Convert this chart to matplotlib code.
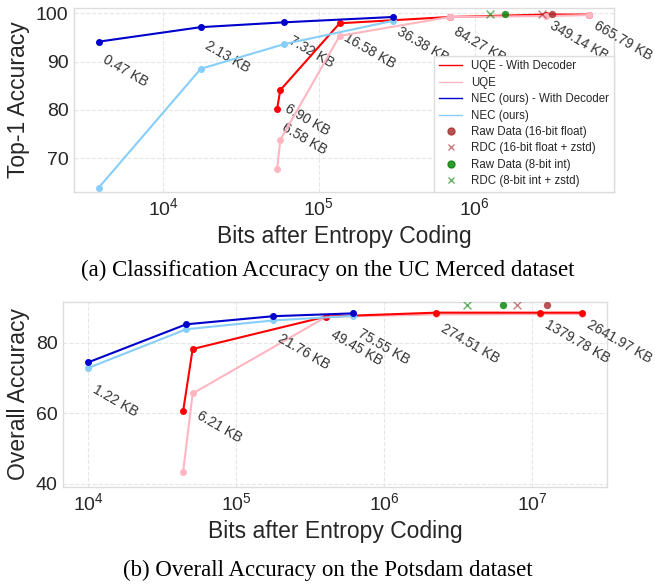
import numpy as np
import matplotlib.pyplot as plt
from matplotlib.lines import Line2D

plt.rcParams['font.family'] = ['Liberation Sans', 'DejaVu Sans']
plt.rcParams['mathtext.fontset'] = 'custom'
plt.rcParams['mathtext.rm'] = 'Liberation Sans'
plt.rcParams['mathtext.it'] = 'Liberation Sans:italic'
plt.rcParams['mathtext.bf'] = 'Liberation Sans:bold'

# ---- (a) UC Merced ----
nec_kb_a = [0.47, 2.13, 7.32, 36.38]
nec_dec_a = [94.1, 97.1, 98.1, 99.2]
nec_acc_a = [63.9, 88.5, 93.6, 98.4]
nec_lab_a = [True, True, True, True]

uqe_kb_a = [6.58, 6.90, 16.58, 84.27, 349.14, 665.79]
uqe_dec_a = [80.2, 84.1, 97.9, 99.2, 99.7, 99.7]
uqe_acc_a = [67.8, 73.8, 95.3, 99.2, 99.4, 99.6]
uqe_lab_a = [True, True, True, True, True, True]

# raw data / rdc: [16-bit float, 8-bit int]
raw_bits_a = [3.15e6, 1.57e6]
rdc_bits_a = [2.70e6, 1.25e6]
raw_acc_a = 99.8

# ---- (b) Potsdam ----
nec_kb_b = [1.22, 5.62, 21.76, 75.55]
nec_dec_b = [74.4, 85.2, 87.5, 88.3]
nec_acc_b = [72.8, 83.8, 86.3, 87.6]
nec_lab_b = [True, False, True, True]

uqe_kb_b = [5.36, 6.21, 49.45, 274.51, 1379.78, 2641.97]
uqe_dec_b = [60.7, 78.2, 87.4, 88.5, 88.5, 88.5]
uqe_acc_b = [43.5, 65.6, 87.3, 88.0, 88.1, 88.1]
uqe_lab_b = [False, True, True, True, True, True]

raw_bits_b = [12.58e6, 6.29e6]
rdc_bits_b = [7.83e6, 3.61e6]
raw_acc_b = 90.6

c_uqe_dec = 'red'
c_uqe = '#FFB6C1'
c_nec_dec = '#0000CD'
c_nec = '#87CEFA'
c_raw16 = 'brown'
c_raw8 = 'green'
txt_col = '#262626'


def kb2bits(kb):
    return np.array(kb) * 8 * 1024


def draw(ax, nec_kb, nec_dec, nec_acc, nec_lab, uqe_kb, uqe_dec, uqe_acc, uqe_lab,
         raw_bits, rdc_bits, raw_acc, label_on_dec, pink_on_top, lab_dy):
    nb = kb2bits(nec_kb)
    ub = kb2bits(uqe_kb)
    z_pink = 3.5 if pink_on_top else 3
    ax.plot(ub, uqe_dec, '-o', color=c_uqe_dec, lw=1.5, ms=4, zorder=3.2)
    ax.plot(ub, uqe_acc, '-o', color=c_uqe, lw=1.5, ms=4, zorder=z_pink)
    ax.plot(nb, nec_acc, '-o', color=c_nec, lw=1.5, ms=4, zorder=3.6)
    ax.plot(nb, nec_dec, '-o', color=c_nec_dec, lw=1.5, ms=4, zorder=3.7)

    ax.scatter([raw_bits[0]], [raw_acc], color=c_raw16, alpha=0.8, s=28, zorder=4, lw=0)
    ax.scatter([rdc_bits[0]], [raw_acc], color=c_raw16, alpha=0.6, marker='x', s=32, lw=1, zorder=4)
    ax.scatter([raw_bits[1]], [raw_acc], color=c_raw8, alpha=0.8, s=28, zorder=4, lw=0)
    ax.scatter([rdc_bits[1]], [raw_acc], color=c_raw8, alpha=0.6, marker='x', s=32, lw=1, zorder=4)

    if label_on_dec:
        pts = list(zip(nec_kb, nb, nec_dec, nec_lab)) + list(zip(uqe_kb, ub, uqe_dec, uqe_lab))
    else:
        pts = list(zip(nec_kb, nb, nec_acc, nec_lab)) + list(zip(uqe_kb, ub, uqe_acc, uqe_lab))
    for kb, b, y, show in pts:
        if show:
            ax.annotate(f'{kb:.2f} KB', (b, y), xytext=(1.5, lab_dy), textcoords='offset points',
                        rotation=-30, ha='left', va='bottom', fontsize=10, color='#333333')

    ax.set_xscale('log')
    ax.minorticks_off()
    ax.grid(True, linestyle='--', color='#e6e6e6', lw=0.8)
    ax.set_axisbelow(True)
    for s in ax.spines.values():
        s.set_color('#dddddd')
        s.set_linewidth(1.0)
    ax.tick_params(length=0, labelsize=14, pad=4, colors=txt_col)
    ax.set_xlabel('Bits after Entropy Coding', fontsize=16.5, color=txt_col, labelpad=4)


fig = plt.figure(figsize=(6.55, 5.87), dpi=100)
ax1 = fig.add_axes([0.1130, 0.6734, 0.8244, 0.3125])
ax2 = fig.add_axes([0.0966, 0.1709, 0.8297, 0.3151])

draw(ax1, nec_kb_a, nec_dec_a, nec_acc_a, nec_lab_a, uqe_kb_a, uqe_dec_a, uqe_acc_a, uqe_lab_a,
     raw_bits_a, rdc_bits_a, raw_acc_a, True, True, -34.5)
ax1.set_ylim(63.1, 101.0)
ax1.set_yticks([70, 80, 90, 100])
ax1.set_ylabel('Top-1 Accuracy', fontsize=16.5, color=txt_col)

handles = [
    Line2D([], [], color=c_uqe_dec, lw=1, label='UQE - With Decoder'),
    Line2D([], [], color=c_uqe, lw=1, label='UQE'),
    Line2D([], [], color=c_nec_dec, lw=1, label='NEC (ours) - With Decoder'),
    Line2D([], [], color=c_nec, lw=1, label='NEC (ours)'),
    Line2D([], [], color=c_raw16, alpha=0.8, marker='o', ls='none', ms=5, label='Raw Data (16-bit float)'),
    Line2D([], [], color=c_raw16, alpha=0.6, marker='x', ls='none', ms=5, label='RDC (16-bit float + zstd)'),
    Line2D([], [], color=c_raw8, alpha=0.8, marker='o', ls='none', ms=5, label='Raw Data (8-bit int)'),
    Line2D([], [], color=c_raw8, alpha=0.6, marker='x', ls='none', ms=5, label='RDC (8-bit int + zstd)'),
]
leg = ax1.legend(handles=handles, loc='lower right', fontsize=8.3, borderaxespad=0,
                 labelspacing=0.38, fancybox=False, edgecolor='#dddddd', framealpha=1)
leg.set_zorder(5)
for t in leg.get_texts():
    t.set_color(txt_col)

draw(ax2, nec_kb_b, nec_dec_b, nec_acc_b, nec_lab_b, uqe_kb_b, uqe_dec_b, uqe_acc_b, uqe_lab_b,
     raw_bits_b, rdc_bits_b, raw_acc_b, False, False, -37)
ax2.set_ylim(39.2, 91.6)
ax2.set_yticks([40, 60, 80])
ax2.set_ylabel('Overall Accuracy', fontsize=16.5, color=txt_col)

fig.text(0.501, 0.540, '(a) Classification Accuracy on the UC Merced dataset',
         ha='center', va='center', fontsize=16.5, family='Liberation Serif')
fig.text(0.501, 0.029, '(b) Overall Accuracy on the Potsdam dataset',
         ha='center', va='center', fontsize=16.5, family='Liberation Serif')

fig.savefig('out.png', dpi=100)
